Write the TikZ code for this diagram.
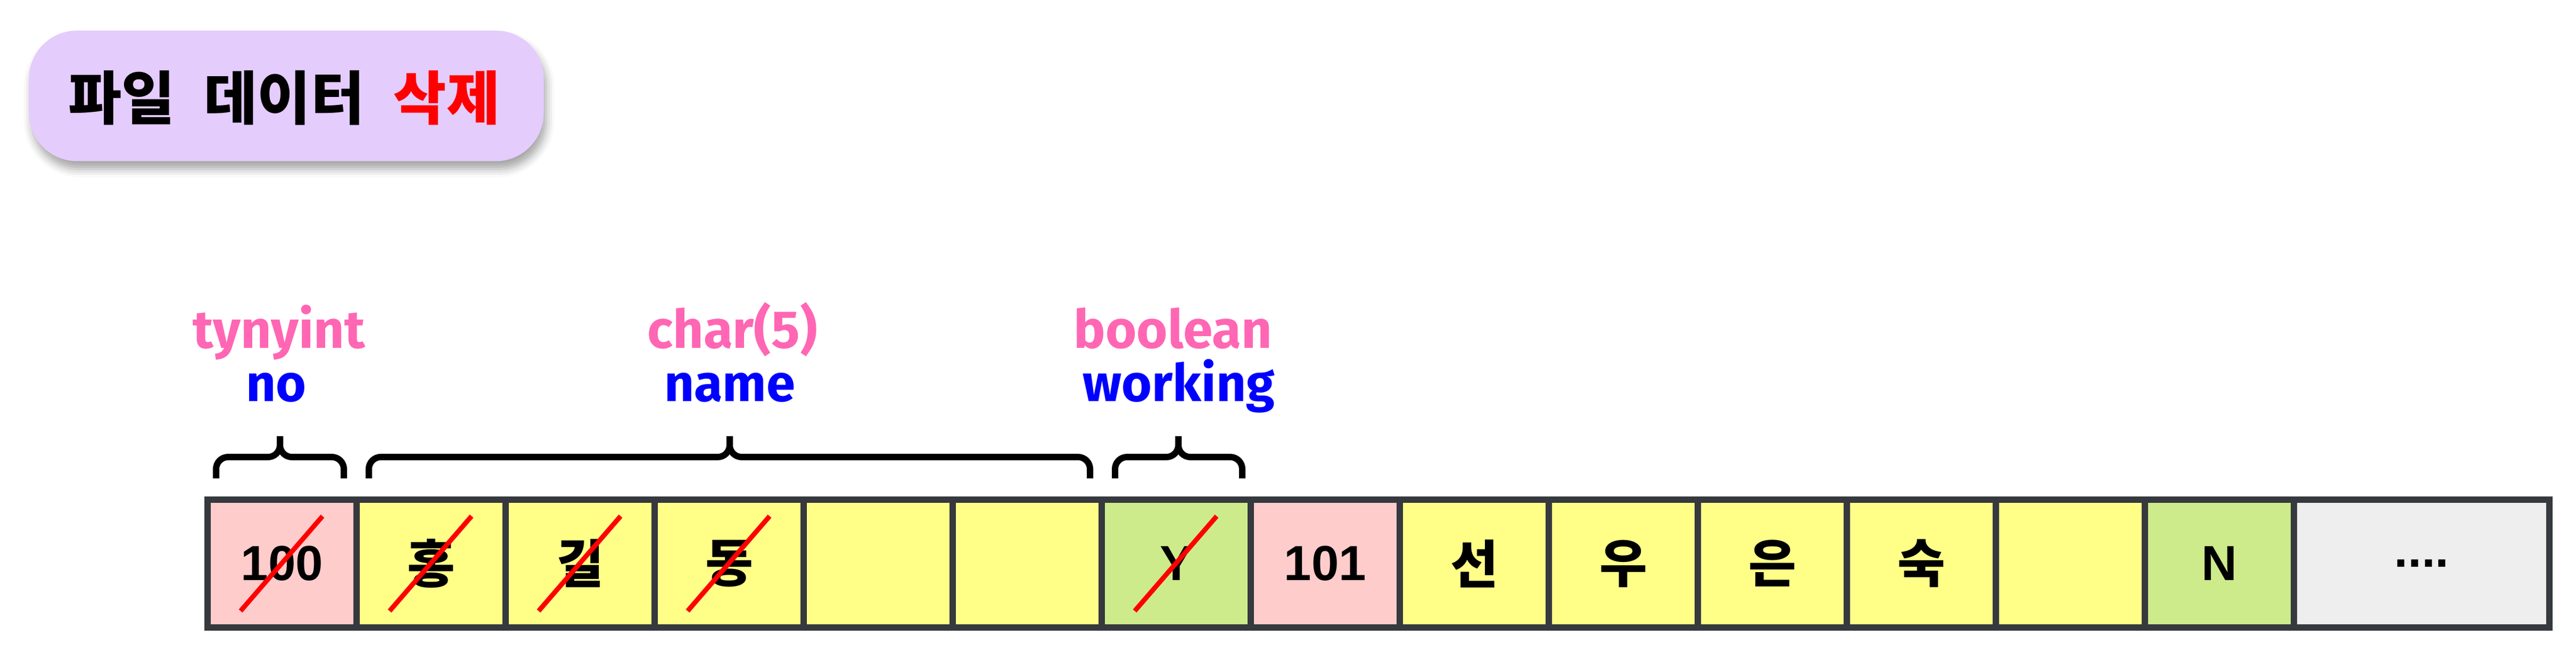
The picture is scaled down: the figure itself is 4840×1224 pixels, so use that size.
\documentclass[tikz,border=0pt]{standalone}
\usepackage{fontspec}
\setmainfont{Liberation Sans}
\newfontfamily\kr{Noto Sans CJK KR}
\newfontfamily\lab{Fira Sans}
\usetikzlibrary{shadows.blur}
\definecolor{borderc}{HTML}{36393D}
\definecolor{pinkc}{HTML}{FFCCCC}
\definecolor{yellowc}{HTML}{FFFF88}
\definecolor{greenc}{HTML}{CDEB8B}
\definecolor{grayc}{HTML}{EEEEEE}
\definecolor{titlec}{HTML}{E4CCFC}
\definecolor{typec}{HTML}{FF66B3}
\definecolor{namec}{HTML}{0000FF}
\definecolor{redc}{HTML}{FF0000}
\tikzset{
  cellbox/.style={draw=borderc, line width=2.4pt, minimum width=56pt, minimum height=48pt, inner sep=0pt, anchor=center},
  latintext/.style={font=\fontsize{18.5}{22}\selectfont\bfseries},
  krtext/.style={font=\kr\fontsize{19.5}{23}\selectfont\bfseries},
  strike/.style={draw=redc, line width=1.8pt},
  bracestyle/.style={draw=black, line width=2.4pt, rounded corners=4.5pt},
  typelab/.style={font=\lab\fontsize{20}{24}\selectfont\bfseries, text=typec, inner sep=0pt, anchor=base},
  namelab/.style={font=\lab\fontsize{19.5}{24}\selectfont\bfseries, text=namec, inner sep=0pt, anchor=base},
  titlebox/.style={fill=titlec, rounded corners=18pt, minimum width=193.4pt, minimum height=49pt, inner sep=0pt,
    blur shadow={shadow xshift=1pt, shadow yshift=-3pt, shadow blur radius=3pt, shadow opacity=35}},
}
\begin{document}
\begin{tikzpicture}[x=0.2pt, y=-0.2pt]
\useasboundingbox (0,0) rectangle (4840,1224);
% title
\node[titlebox] (title) at (538,180) {};
\node[font=\kr\fontsize{21.8}{26}\selectfont\bfseries, inner sep=0pt] (titletext) at (534,184) {파일\hspace{0.5em}데이터\hspace{0.5em}\textcolor{redc}{삭제}};
% cells
\node[cellbox, fill=pinkc,   latintext] (c1)  at (530,1058)  {100};
\node[cellbox, fill=yellowc, krtext]    (c2)  at (810,1058)  {홍};
\node[cellbox, fill=yellowc, krtext]    (c3)  at (1090,1058) {길};
\node[cellbox, fill=yellowc, krtext]    (c4)  at (1370,1058) {동};
\node[cellbox, fill=yellowc]            (c5)  at (1650,1058) {};
\node[cellbox, fill=yellowc]            (c6)  at (1930,1058) {};
\node[cellbox, fill=greenc,  latintext] (c7)  at (2210,1058) {Y};
\node[cellbox, fill=pinkc,   latintext] (c8)  at (2490,1058) {101};
\node[cellbox, fill=yellowc, krtext]    (c9)  at (2770,1058) {선};
\node[cellbox, fill=yellowc, krtext]    (c10) at (3050,1058) {우};
\node[cellbox, fill=yellowc, krtext]    (c11) at (3330,1058) {은};
\node[cellbox, fill=yellowc, krtext]    (c12) at (3610,1058) {숙};
\node[cellbox, fill=yellowc]            (c13) at (3890,1058) {};
\node[cellbox, fill=greenc,  latintext] (c14) at (4170,1058) {N};
\node[cellbox, fill=grayc,   latintext, minimum width=96pt] (c15) at (4550,1058) {....};
% strikes
\foreach \c in {c1,c2,c3,c4,c7}{
  \draw[strike] ([shift={(-78,89)}]\c.center) -- ([shift={(76,-89)}]\c.center);
}
% braces
\draw[bracestyle] (406,898) -- (406,858) -- (526,858) -- (526,819);
\draw[bracestyle] (646,898) -- (646,858) -- (526,858) -- (526,819);
\draw[bracestyle] (693,898) -- (693,858) -- (1371,858) -- (1371,819);
\draw[bracestyle] (2048,898) -- (2048,858) -- (1371,858) -- (1371,819);
\draw[bracestyle] (2095,898) -- (2095,858) -- (2214,858) -- (2214,819);
\draw[bracestyle] (2334,898) -- (2334,858) -- (2214,858) -- (2214,819);
% labels
\node[typelab] (t1) at (524,654)  {tynyint};
\node[namelab] (n1) at (519,754)  {no};
\node[typelab] (t2) at (1376,654) {char(5)};
\node[namelab] (n2) at (1371,754) {name};
\node[typelab] (t3) at (2204,654) {boolean};
\node[namelab] (n3) at (2215,754) {working};
\end{tikzpicture}
\end{document}
